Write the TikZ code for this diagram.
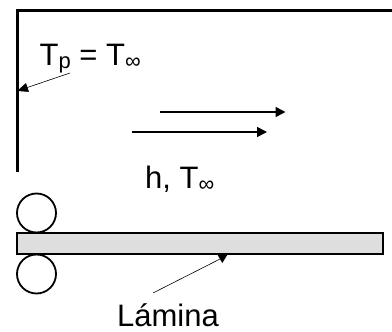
\documentclass[tikz,border=0pt]{standalone}
\usepackage{fontspec}
\setmainfont{Liberation Sans}
\usetikzlibrary{arrows.meta}
\tikzset{
  wall/.style={line width=2.4pt,line cap=butt},
  roller/.style={draw=black,line width=1.8pt,circle,minimum size=39pt,inner sep=0pt,fill=white},
  plate/.style={draw=black,line width=2.2pt,fill=black!13,minimum width=366pt,minimum height=21pt,inner sep=0pt},
  flow/.style={line width=1.5pt,-{Triangle[length=10pt,width=10pt]}},
  leader/.style={line width=0.6pt},
  leaderhead/.style={leader,-{Triangle[length=11pt,width=9pt]}},
  lbl/.style={inner sep=0pt,anchor=base west,font=\fontsize{31}{33}\selectfont},
}
\newcommand{\subtext}[1]{\raisebox{-3pt}{\fontsize{22}{23}\selectfont #1}}
\begin{document}
\begin{tikzpicture}[x=1pt,y=-1pt]
\useasboundingbox (0,0) rectangle (392,332);
\draw[wall] (392,10.5) -- (17.3,10.5) -- (17.3,172);
\coordinate (d1) at (153,293);
\coordinate (d2) at (222,258);
\draw[leader] (d1) -- (d2);
\fill (216.5,253) -- (228.5,253) -- (222.3,263) -- cycle;
\node[roller] (r1) at (36.5,213) {};
\node[roller] (r2) at (36.5,274) {};
\node[plate] (p) at (199.7,243.5) {};
\node[lbl] (tp) at (39.5,66) {T\subtext{p} = T\subtext{∞}};
\node[lbl] (h) at (145,188) {h, T\subtext{∞}};
\node[lbl] (lam) at (117,326) {Lámina};
\coordinate (a1) at (70,73);
\coordinate (a2) at (17,91);
\draw[leaderhead] (a1) -- (a2);
\coordinate (b1) at (160,112);
\coordinate (b2) at (285.5,112);
\draw[flow] (b1) -- (b2);
\coordinate (c1) at (132,132);
\coordinate (c2) at (267,132);
\draw[flow] (c1) -- (c2);
\end{tikzpicture}
\end{document}
